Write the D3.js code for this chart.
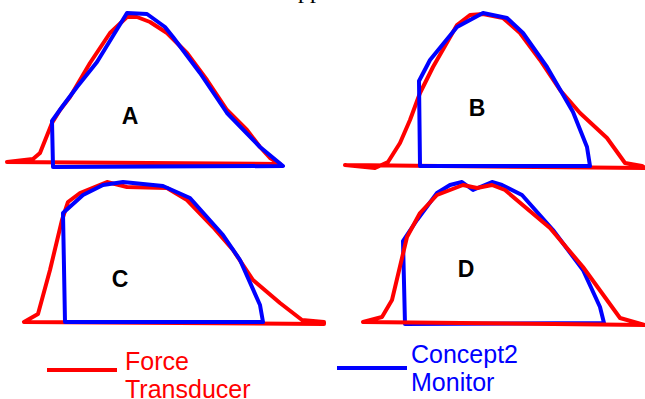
<!DOCTYPE html>
<html>
<head>
<meta charset="utf-8">
<script src="https://cdn.jsdelivr.net/npm/d3@7"></script>
<style>
  html, body { margin: 0; padding: 0; background: #fff; }
  svg { display: block; }
</style>
</head>
<body>
<div id="chart"></div>
<script>
// stroke samples: [time, force] in arbitrary units
const redA = [[7,3],[33,6],[40,12],[52,42],[60,55],[70,68],[80,85],[90,102],[110,132],[127,148],[137,148],[150,143],[167,132],[187,112],[207,85],[227,55],[247,35],[260,18],[270,7],[280,1],[7,3]];
const blueA = [[53,-2],[52,44],[62,58],[77,78],[97,103],[127,152],[147,151],[165,138],[173,128],[200,92],[227,52],[260,18],[283,-1],[53,-2]];

const redB = [[5,5],[35,2],[48,8],[60,27],[70,50],[80,77],[93,103],[117,145],[130,155],[143,156],[163,152],[180,137],[200,110],[220,80],[240,57],[267,32],[285,7],[302,4],[305,2],[5,5]];
const blueB = [[80,4],[79,89],[90,110],[117,143],[143,157],[167,152],[183,137],[207,103],[233,58],[247,23],[250,4],[80,4]];

const redC = [[24,3],[38,11],[50,55],[62,105],[68,123],[80,132],[107,143],[127,138],[167,137],[187,125],[213,98],[233,75],[253,45],[280,22],[302,5],[324,3],[324,1],[24,3]];
const blueC = [[65,3],[63,112],[83,130],[103,140],[123,143],[163,139],[190,127],[223,90],[240,65],[260,20],[263,3],[65,3]];

const redD = [[23,5],[42,10],[52,27],[67,90],[80,114],[97,132],[123,142],[137,139],[152,142],[165,137],[210,99],[243,60],[280,9],[305,2],[23,5]];
const blueD = [[65,3],[63,86],[77,107],[97,134],[110,142],[122,145],[133,137],[152,145],[162,142],[182,132],[213,97],[243,57],[260,20],[264,4],[65,3]];

const panelNames = ['A', 'B', 'C', 'D'];
const labelSpots = [[130, 41], [137, 54], [120, 38], [126, 50]];
const legendNames = [['Force', 'Transducer'], ['Concept2', 'Monitor']];

const RED = '#ff0000';
const BLUE = '#0000ff';

const width = 645;
const height = 399;

const svg = d3.select('#chart')
  .append('svg')
  .attr('width', width)
  .attr('height', height);

// cropped title text at the very top
svg.append('text')
  .attr('x', 298)
  .attr('y', -2)
  .attr('font-family', 'Liberation Serif, Times New Roman, serif')
  .attr('font-size', 24)
  .attr('fill', '#000')
  .text('pp');

// panel frames
const panels = [
  { name: 'A', ox: 0,   base: 165, red: redA, blue: blueA, redOnTop: false },
  { name: 'B', ox: 340, base: 170, red: redB, blue: blueB, redOnTop: false },
  { name: 'C', ox: 0,   base: 325, red: redC, blue: blueC, redOnTop: false },
  { name: 'D', ox: 340, base: 327, red: redD, blue: blueD, redOnTop: true },
];

panels.forEach((p, i) => {
  const x = d3.scaleLinear().domain([0, 300]).range([p.ox, p.ox + 300]);
  const y = d3.scaleLinear().domain([0, 160]).range([p.base, p.base - 160]);
  const line = d3.line().x(d => x(d[0])).y(d => y(d[1]));

  const g = svg.append('g').attr('class', 'panel-' + p.name);
  const order = p.redOnTop
    ? [[p.blue, BLUE], [p.red, RED]]
    : [[p.red, RED], [p.blue, BLUE]];

  order.forEach(([data, color]) => {
    g.append('path')
      .datum(data)
      .attr('d', line)
      .attr('fill', 'none')
      .attr('stroke', color)
      .attr('stroke-width', 4)
      .attr('stroke-linejoin', 'round')
      .attr('stroke-linecap', 'round');
  });

  g.append('text')
    .attr('x', x(labelSpots[i][0]))
    .attr('y', y(labelSpots[i][1]))
    .attr('text-anchor', 'middle')
    .attr('font-family', 'Liberation Sans, Arial, sans-serif')
    .attr('font-weight', 'bold')
    .attr('font-size', 23)
    .attr('fill', '#000')
    .text(panelNames[i]);
});

// legend
const legendItems = [
  { color: RED,  x1: 47,  x2: 117, ly: 370, tx: 125, ty: 370 },
  { color: BLUE, x1: 337, x2: 407, ly: 368, tx: 411, ty: 363 },
];

legendItems.forEach((d, i) => {
  svg.append('line')
    .attr('x1', d.x1).attr('x2', d.x2)
    .attr('y1', d.ly).attr('y2', d.ly)
    .attr('stroke', d.color)
    .attr('stroke-width', 4);

  const t = svg.append('text')
    .attr('x', d.tx)
    .attr('y', d.ty)
    .attr('font-family', 'Liberation Sans, Arial, sans-serif')
    .attr('font-size', 25)
    .attr('fill', d.color);
  legendNames[i].forEach((s, j) => {
    t.append('tspan')
      .attr('x', d.tx)
      .attr('dy', j === 0 ? 0 : 28)
      .text(s);
  });
});
</script>
</body>
</html>
